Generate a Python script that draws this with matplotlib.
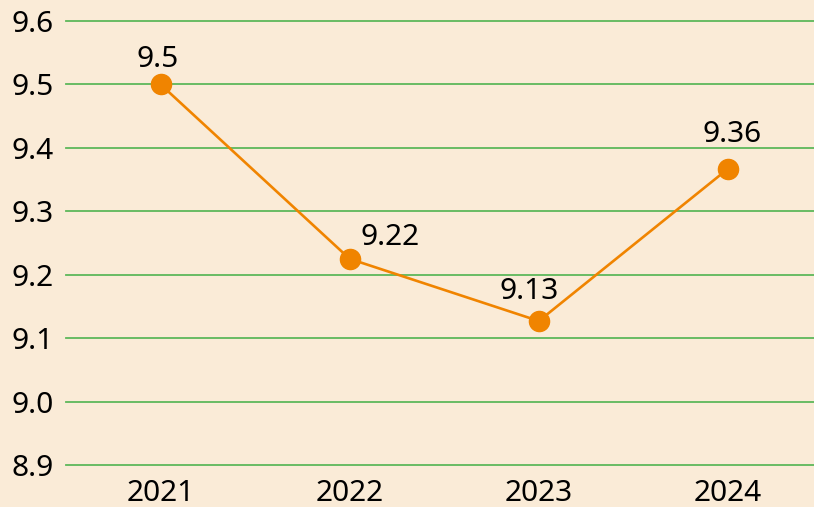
import matplotlib
matplotlib.use("Agg")
import matplotlib.pyplot as plt

years = ["2021", "2022", "2023", "2024"]
values = [9.5, 9.225, 9.127, 9.367]
value_labels = ["9.5", "9.22", "9.13", "9.36"]
y_ticks = [8.9, 9.0, 9.1, 9.2, 9.3, 9.4, 9.5, 9.6]

# label offsets in pixels (dx, dy of baseline-center from point)
label_offsets = [(-3, 17), (40, 14), (-10, 22), (4, 27)]

plt.rcParams['font.family'] = ['Noto Sans', 'DejaVu Sans']
bg = '#FAEBD7'
W, H = 814, 507
fig = plt.figure(figsize=(W / 100, H / 100), dpi=100, facecolor=bg)
ax = fig.add_axes([66 / W, (H - 465) / H, (W - 66) / W, (465 - 21) / H])
ax.set_facecolor(bg)

x = list(range(len(years)))
ax.set_ylim(8.9, 9.6)
ax.set_xlim(-0.5, 3.455)
ax.set_yticks(y_ticks)
ax.set_yticklabels([f"{t:.1f}" for t in y_ticks])
ax.set_xticks(x)
ax.set_xticklabels(years)
for s in ax.spines.values():
    s.set_visible(False)
ax.tick_params(axis='both', length=0, labelsize=21.5, colors='black')
ax.tick_params(axis='y', pad=9)
ax.tick_params(axis='x', pad=10)
for t in y_ticks:
    ax.axhline(t, color='#5DB85A', lw=1.3, zorder=1, clip_on=False)

ax.plot(x, values, color='#F08400', lw=1.9, marker='o', markersize=14.5,
        zorder=3, clip_on=False)

for xi, v, lab, (dx, dy) in zip(x, values, value_labels, label_offsets):
    ax.annotate(lab, (xi, v), xytext=(dx * 0.72, dy * 0.72), textcoords='offset points',
                ha='center', va='baseline', fontsize=21.5, color='black', zorder=4)

fig.savefig('out.png', dpi=100, facecolor=bg)
